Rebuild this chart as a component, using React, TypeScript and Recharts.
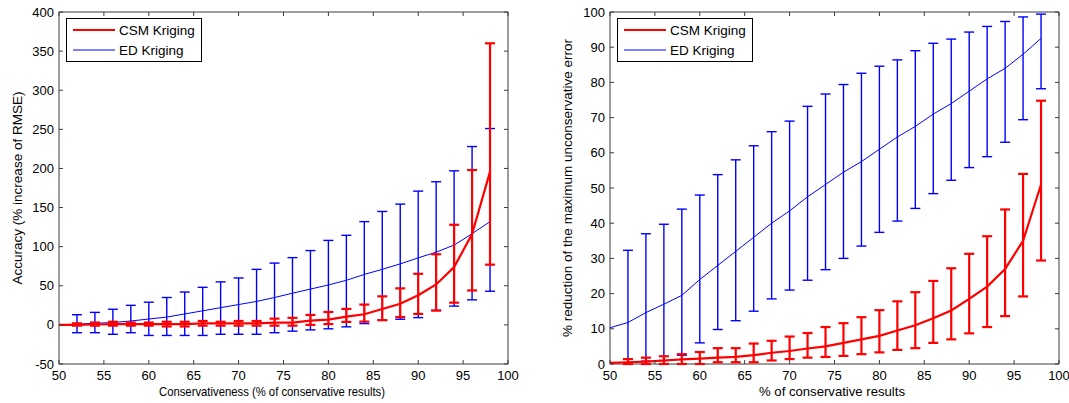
import React from "react";
import {
  LineChart,
  Line,
  XAxis,
  YAxis,
  ErrorBar,
  ReferenceArea,
  Legend,
  Label,
} from "recharts";

// % of conservative results (x positions)
const pct = [50, 52, 54, 56, 58, 60, 62, 64, 66, 68, 70, 72, 74, 76, 78, 80, 82, 84, 86, 88, 90, 92, 94, 96, 98];

// left panel: accuracy (% increase of RMSE)
const edAcc = [0, 1, 2, 3, 5, 7.5, 10, 14, 18, 22, 26, 30, 35, 40.5, 45.8, 51, 57, 64.5, 71, 78, 85.7, 93, 102, 116.6, 132];
const edAccHi = [null, 13, 16, 20, 25, 29, 35, 42, 48, 55, 60, 71, 79, 86, 95, 108, 114.5, 132, 145, 154.4, 171, 183, 197, 228, 251];
const edAccLo = [null, -10, -10, -12, -10, -13.5, -13.5, -13.5, -13.5, -12, -12, -12, -10, -8, -6.4, -5, -2.5, 1.7, 6, 7.2, 9.3, 18.7, 24, 32, 43];
const csmAcc = [0, 0, 0.5, 1, 1, 1, 1, 1, 2, 2, 2, 2, 3, 3, 5.5, 6.8, 10.6, 13.6, 20.4, 27, 38, 51.7, 74, 116, 196];
const csmAccHi = [null, 2, 3, 4, 3, 3, 4, 4, 5, 4, 5, 5, 8, 9, 12.7, 16.5, 20.4, 26, 36.5, 46.7, 65.3, 90.3, 128, 198, 360];
const csmAccLo = [null, -1, -1, -1, -1, -1, -2, -2, -1, -1, -1, -1, -1, -1, 0, 1, 3.8, 4.2, 6, 10, 14, 18.2, 28.4, 44, 77];

// right panel: % reduction of the maximum unconservative error
const edRed = [10.3, 11.8, 14.6, 17, 19.5, 24, 28, 32, 36, 40, 43.5, 47.5, 51, 54.5, 57.5, 61, 64.5, 67.5, 71, 74, 77.5, 81, 84, 88, 92.5];
const edRedHi = [null, 32.3, 37, 39.7, 44, 48, 53.8, 58, 62, 66, 69, 73.2, 76.7, 79.4, 82.6, 84.6, 86.4, 89, 91.1, 92.3, 94.3, 95.9, 97.3, 98.6, 99.4];
const edRedLo = [null, 0.2, 0.8, 1, 2.5, 6, 9.8, 12.3, 15, 18.5, 21, 23.8, 26.8, 30, 33.5, 37.4, 40.6, 44.2, 48.4, 52.2, 55.8, 58.9, 63, 69.4, 78.2];
const csmRed = [0.3, 0.5, 0.7, 1, 1.3, 1.5, 1.8, 2, 2.5, 3.2, 3.7, 4.4, 5, 6, 7, 8, 9.5, 11, 13, 15.2, 18.5, 22, 27, 35, 51];
const csmRedHi = [null, 1.4, 1.8, 2.2, 2.8, 3.4, 4.5, 4.5, 5.8, 6.6, 7.8, 8.8, 10.5, 11.6, 13.3, 15.3, 17.8, 20.4, 23.6, 27.2, 31.3, 36.3, 43.9, 54, 74.8];
const csmRedLo = [null, 0, 0, 0, 0, 0, 0.5, 0.5, 0.5, 1, 1.4, 1.8, 2, 2.3, 2.8, 3.3, 4, 4.5, 6, 7, 8.7, 10.5, 13.6, 19.2, 29.4];

const xTicks = [50, 55, 60, 65, 70, 75, 80, 85, 90, 95, 100];
const accTicks = [-50, 0, 50, 100, 150, 200, 250, 300, 350, 400];
const redTicks = [0, 10, 20, 30, 40, 50, 60, 70, 80, 90, 100];

const err = (v: number, lo: number | null, hi: number | null) =>
  lo == null || hi == null ? null : [v - lo, hi - v];

const build = (ed: number[], edLo: any[], edHi: any[], csm: number[], csmLo: any[], csmHi: any[]) =>
  pct.map((x, i) => ({
    x,
    ed: ed[i],
    csm: csm[i],
    edErr: err(ed[i], edLo[i], edHi[i]),
    csmErr: err(csm[i], csmLo[i], csmHi[i]),
  }));

const accData = build(edAcc, edAccLo, edAccHi, csmAcc, csmAccLo, csmAccHi);
const redData = build(edRed, edRedLo, edRedHi, csmRed, csmRedLo, csmRedHi);

const RED = "#ff0000";
const BLUE = "#0000ff";
const AXIS = "#3a3a3a";

const makeYTick = (L: number, R: number) => (p: any) => {
  const { x, y, payload } = p;
  return (
    <g>
      <text x={x} y={y} dy="0.35em" textAnchor="end" fontSize={13} fill="#000">
        {payload.value}
      </text>
      <line x1={L} x2={L + 4} y1={y} y2={y} stroke={AXIS} />
      <line x1={R} x2={R - 4} y1={y} y2={y} stroke={AXIS} />
    </g>
  );
};

const makeXTick = (T: number, B: number) => (p: any) => {
  const { x, y, payload } = p;
  return (
    <g>
      <text x={x} y={y} dy="0.71em" textAnchor="middle" fontSize={13} fill="#000">
        {payload.value}
      </text>
      <line x1={x} x2={x} y1={B} y2={B - 4} stroke={AXIS} />
      <line x1={x} x2={x} y1={T} y2={T + 4} stroke={AXIS} />
    </g>
  );
};

const LegendBox = () => (
  <div
    style={{
      width: 134,
      height: 42,
      border: "1px solid #000",
      background: "#fff",
      position: "relative",
      fontSize: 13.5,
      color: "#000",
    }}
  >
    <svg width={134} height={42} style={{ position: "absolute", left: 0, top: 0 }}>
      <line x1={6} x2={48} y1={11} y2={11} stroke={RED} strokeWidth={2} />
      <line x1={6} x2={48} y1={31} y2={31} stroke={BLUE} strokeWidth={1} />
      <text x={52} y={11} dy="0.35em" fontSize={13.5} fill="#000">CSM Kriging</text>
      <text x={52} y={31} dy="0.35em" fontSize={13.5} fill="#000">ED Kriging</text>
    </svg>
  </div>
);

interface PanelProps {
  data: any[];
  width: number;
  yWidth: number;
  right: number;
  yDomain: [number, number];
  yTicks: number[];
  yLabel: string;
  yLabelX: number;
  xLabel: string;
  xLabelX: number;
  xLabelLen: number;
}

const TOP = 12;
const BOTTOM = 364;
const H = 403;

const Panel = ({ data, width, yWidth, right, yDomain, yTicks, yLabel, yLabelX, xLabel, xLabelX, xLabelLen }: PanelProps) => {
  const L = yWidth;
  const R = width - right;
  return (
    <LineChart
      width={width}
      height={H}
      data={data}
      margin={{ top: TOP, right, bottom: 0, left: 0 }}
    >
      <XAxis
        dataKey="x"
        type="number"
        domain={[50, 100]}
        ticks={xTicks}
        height={H - BOTTOM}
        tickSize={0}
        tickMargin={7}
        axisLine={false}
        tick={makeXTick(TOP, BOTTOM)}
        interval={0}
      >
        <Label
          content={() => (
            <text
              x={xLabelX}
              y={396}
              textAnchor="middle"
              fontSize={13}
              fill="#000"
              textLength={xLabelLen}
              lengthAdjust="spacingAndGlyphs"
            >
              {xLabel}
            </text>
          )}
        />
      </XAxis>
      <YAxis
        type="number"
        domain={yDomain}
        ticks={yTicks}
        width={yWidth}
        tickSize={0}
        tickMargin={5}
        axisLine={false}
        allowDataOverflow
        tick={makeYTick(L, R)}
        interval={0}
      >
        <Label
          content={() => (
            <text
              x={yLabelX}
              y={(TOP + BOTTOM) / 2}
              textAnchor="middle"
              dominantBaseline="central"
              fontSize={13.5}
              fill="#000"
              transform={`rotate(-90, ${yLabelX}, ${(TOP + BOTTOM) / 2})`}
            >
              {yLabel}
            </text>
          )}
        />
      </YAxis>
      <ReferenceArea
        x1={50}
        x2={100}
        y1={yDomain[0]}
        y2={yDomain[1]}
        fill="none"
        stroke={AXIS}
        strokeWidth={1}
        ifOverflow="visible"
      />
      <Line
        dataKey="ed"
        stroke={BLUE}
        strokeWidth={1}
        dot={false}
        isAnimationActive={false}
      >
        <ErrorBar dataKey="edErr" direction="y" width={5} stroke={BLUE} strokeWidth={1.4} isAnimationActive={false} />
      </Line>
      <Line
        dataKey="csm"
        stroke={RED}
        strokeWidth={2.2}
        dot={false}
        isAnimationActive={false}
      >
        <ErrorBar dataKey="csmErr" direction="y" width={5} stroke={RED} strokeWidth={2.2} isAnimationActive={false} />
      </Line>
      <Legend
        layout="vertical"
        align="center"
        verticalAlign="middle"
        content={() => <LegendBox />}
        wrapperStyle={{ left: L + 7, top: 18, width: 136, height: 44 }}
      />
    </LineChart>
  );
};

export default function App() {
  return (
    <div
      style={{
        position: "absolute",
        left: 0,
        top: 0,
        width: 1069,
        height: 403,
        background: "#fff",
        fontFamily: "'Liberation Sans', Arial, sans-serif",
      }}
    >
      <div style={{ position: "absolute", left: 0, top: 0 }}>
        <Panel
          data={accData}
          width={530}
          yWidth={59}
          right={22}
          yDomain={[-50, 400]}
          yTicks={accTicks}
          yLabel="Accuracy (% increase of RMSE)"
          yLabelX={17}
          xLabel="Conservativeness (% of conservative results)"
          xLabelX={272}
          xLabelLen={226}
        />
      </div>
      <div style={{ position: "absolute", left: 530, top: 0 }}>
        <Panel
          data={redData}
          width={539}
          yWidth={80}
          right={10}
          yDomain={[0, 100]}
          yTicks={redTicks}
          yLabel="% reduction of the maximum unconservative error"
          yLabelX={37}
          xLabel="% of conservative results"
          xLabelX={302}
          xLabelLen={146}
        />
      </div>
    </div>
  );
}
